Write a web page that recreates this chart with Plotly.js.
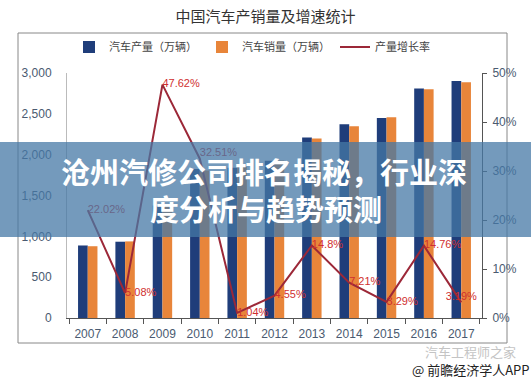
<!DOCTYPE html>
<html>
<head>
<meta charset="utf-8">
<script src="https://cdn.plot.ly/plotly-3.0.1.min.js"></script>
<style>html,body{margin:0;padding:0;background:#fff;}#chart{width:531px;height:380px;}</style>
</head>
<body>
<div id="chart"></div>
<script>
const years = ['2007','2008','2009','2010','2011','2012','2013','2014','2015','2016','2017'];
const production = [888, 934, 1379, 1826, 1841, 1927, 2211, 2372, 2450, 2811, 2901];
const sales = [879, 938, 1364, 1806, 1850, 1930, 2198, 2349, 2459, 2802, 2887];
const growth = [22.02, 5.08, 47.62, 32.51, 1.04, 4.55, 14.8, 7.21, 3.29, 14.76, 3.19];
const growthLabels = ['22.02%', '5.08%', '47.62%', '32.51%', '1.04%', '4.55%', '14.8%', '7.21%', '3.29%', '14.76%', '3.19%'];
const labelPos = ['middle right','middle right','middle right','top right','middle right','middle right','middle right','middle right','middle right','middle right','top center'];

const L = 67, R = 482, T = 73, B = 318, W = 531, H = 380;
const px = x => (x - L) / (R - L);
const py = y => (B - y) / (B - T);

const numFont = {family: '"Liberation Sans Narrow", "Liberation Sans", Arial, sans-serif', size: 12, color: '#4a5a70'};

const data = [
  {type: 'bar', name: '汽车产量（万辆）', x: years, y: production, marker: {color: '#1f3d7a'}},
  {type: 'bar', name: '汽车销量（万辆）', x: years, y: sales, marker: {color: '#e8853a'}},
  {type: 'scatter', mode: 'lines+text', name: '产量增长率', x: years, y: growth, yaxis: 'y2',
   cliponaxis: false,
   line: {color: '#9c2838', width: 2}, text: growthLabels, textposition: labelPos,
   textfont: {family: '"Liberation Sans Narrow", Arial, sans-serif', size: 11, color: '#d03030'}}
];

const layout = {
  width: W, height: H,
  margin: {l: L, r: W - R, t: T, b: H - B, pad: 0},
  paper_bgcolor: '#fff', plot_bgcolor: '#fff',
  showlegend: true,
  barmode: 'group', bargap: 0.48, bargroupgap: 0,
  title: {text: '中国汽车产销量及增速统计', x: 0.5, xanchor: 'center', y: 1 - 17 / H, yanchor: 'middle',
          font: {family: '"Noto Sans CJK SC", sans-serif', size: 15, color: '#333'}},
  legend: {orientation: 'h', x: px(252), xanchor: 'center', y: py(47), yanchor: 'middle',
           font: {family: '"Noto Sans CJK SC", sans-serif', size: 11, color: '#444'},
           bgcolor: 'rgba(0,0,0,0)', itemwidth: 30, tracegroupgap: 0},
  xaxis: {type: 'category', showgrid: false, showline: true, linecolor: '#555', linewidth: 1,
          ticks: 'outside', tickson: 'boundaries', ticklen: 5, tickcolor: '#555',
          tickfont: numFont, zeroline: false, ticklabelstandoff: 5},
  yaxis: {range: [0, 3000], dtick: 500, tickformat: ',', showgrid: false, showline: true,
          linecolor: '#bbb', ticks: '', tickfont: numFont, zeroline: false, ticklabelstandoff: 12},
  yaxis2: {overlaying: 'y', side: 'right', range: [0, 50], dtick: 10, ticksuffix: '%', showgrid: false,
           showline: true, linecolor: '#555', ticks: 'outside', ticklen: 4, tickcolor: '#555',
           tickfont: numFont, zeroline: false, ticklabelstandoff: 3},
  shapes: [
    {type: 'rect', xref: 'paper', yref: 'paper', x0: px(18), x1: px(507), y0: py(343), y1: py(33),
     line: {color: '#888', width: 1}, fillcolor: 'rgba(0,0,0,0)', layer: 'below'},
    {type: 'rect', xref: 'paper', yref: 'paper', x0: px(0), x1: px(W), y0: py(237), y1: py(142),
     line: {width: 0}, fillcolor: 'rgba(70,120,165,0.75)', layer: 'above'}
  ],
  annotations: [
    {text: '<b>沧州汽修公司排名揭秘，行业深</b>', xref: 'paper', yref: 'paper', x: px(264), y: py(171),
     showarrow: false, xanchor: 'center', yanchor: 'middle',
     font: {family: '"Noto Sans CJK SC", sans-serif', size: 29, color: '#fff'}},
    {text: '<b>度分析与趋势预测</b>', xref: 'paper', yref: 'paper', x: px(266), y: py(208),
     showarrow: false, xanchor: 'center', yanchor: 'middle',
     font: {family: '"Noto Sans CJK SC", sans-serif', size: 29, color: '#fff'}},
    {text: '汽车工程师之家', xref: 'paper', yref: 'paper', x: px(470), y: py(351),
     showarrow: false, xanchor: 'center', yanchor: 'middle',
     font: {family: '"Noto Sans CJK SC", sans-serif', size: 13, color: '#c4c4c4'}},
    {text: '@ 前瞻经济学人APP', xref: 'paper', yref: 'paper', x: px(471), y: py(369),
     showarrow: false, xanchor: 'center', yanchor: 'middle',
     font: {family: '"Noto Sans CJK SC", sans-serif', size: 13, color: '#222'}}
  ]
};

Plotly.newPlot('chart', data, layout, {displayModeBar: false, staticPlot: true});
</script>
</body>
</html>
